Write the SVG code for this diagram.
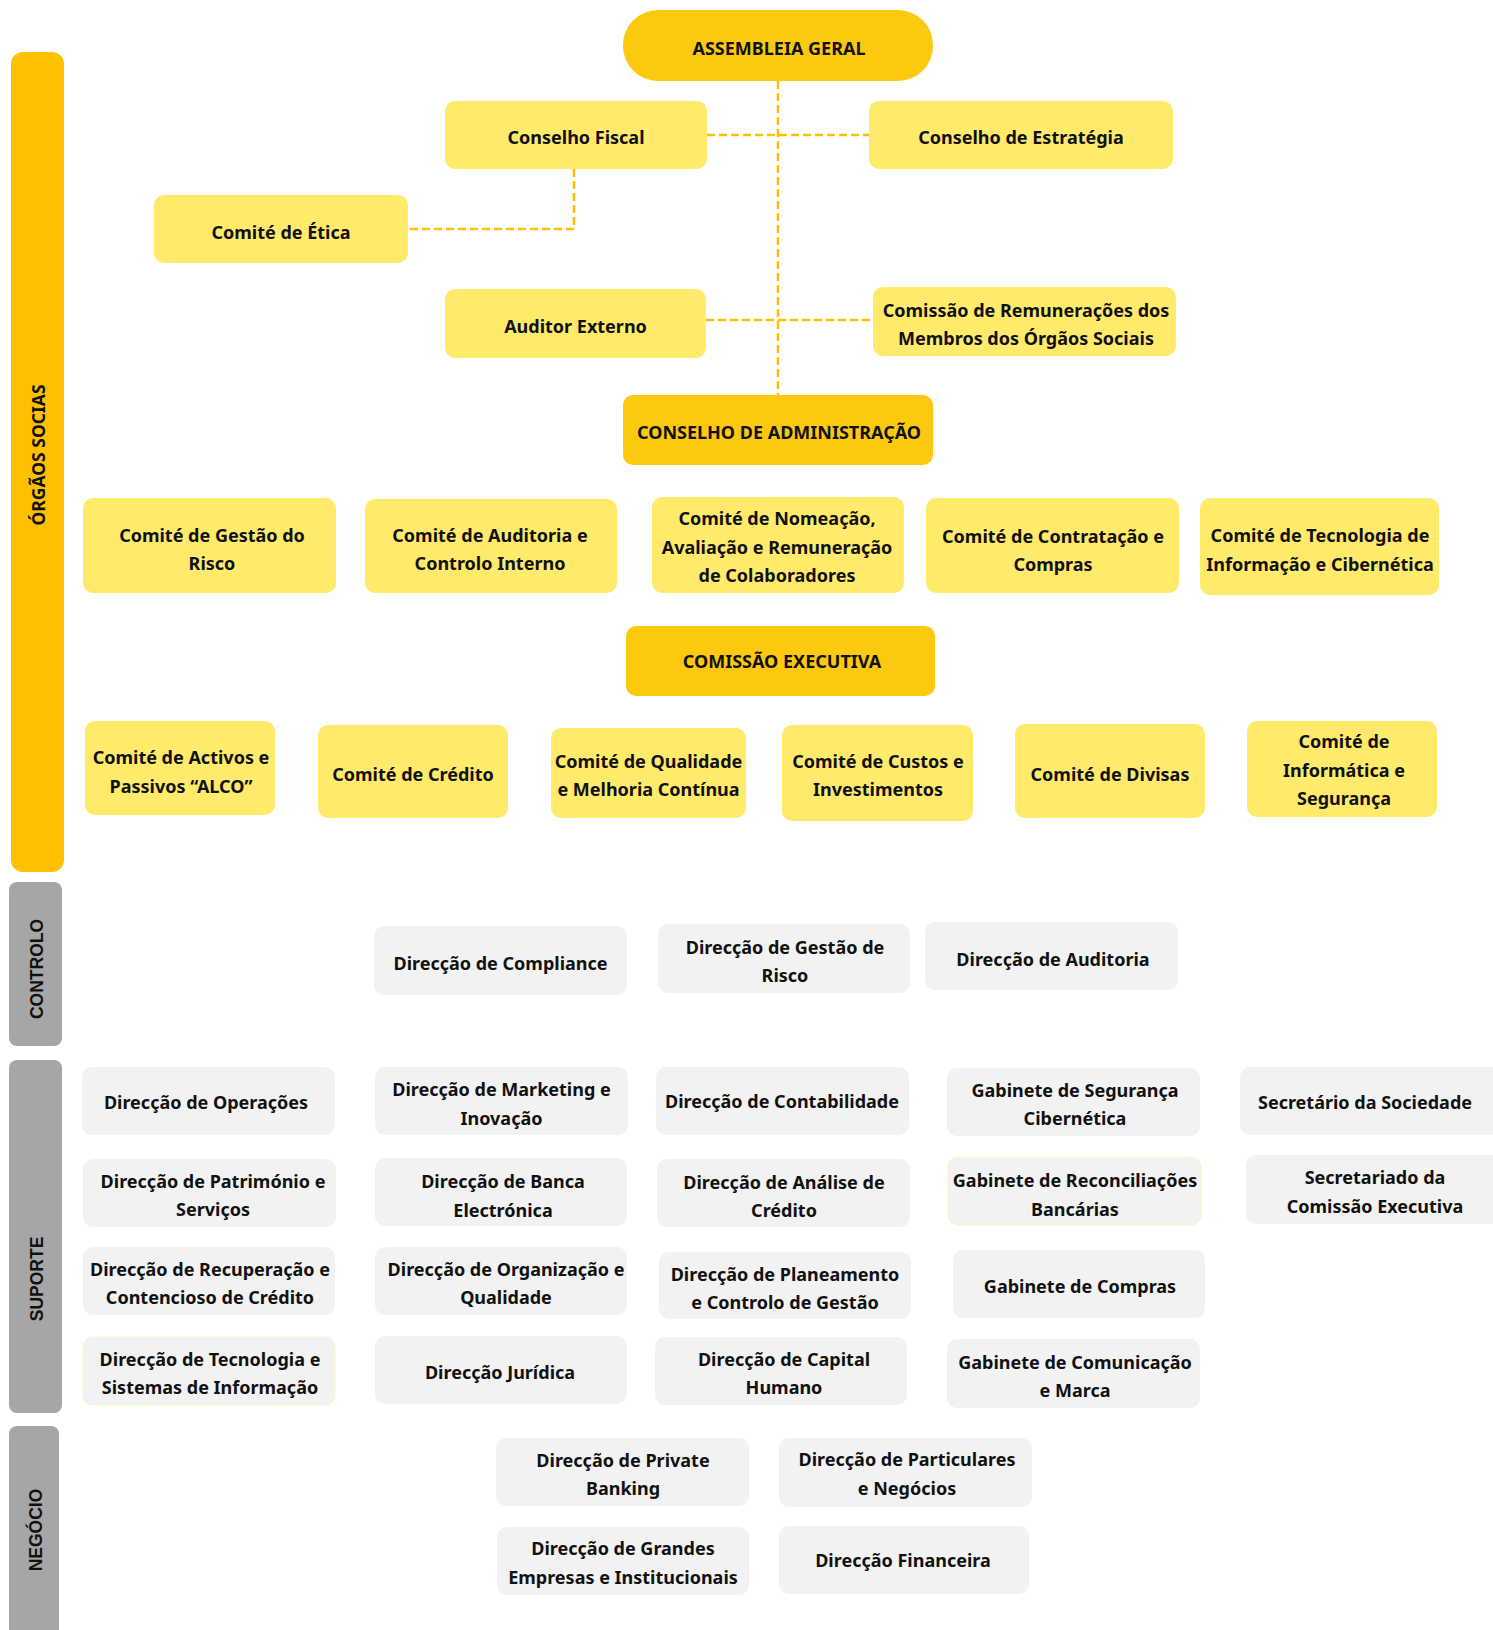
<svg xmlns="http://www.w3.org/2000/svg" width="1493" height="1630" viewBox="0 0 1493 1630">
<style>
.lt{fill:#FFEA6B}
.dk{fill:#FDC90F}
.gr{fill:#F2F2F2}
.t{font-family:"Noto Sans","Liberation Sans",sans-serif;font-weight:700;font-size:18px;fill:#111;text-anchor:middle}
.side{font-family:"Liberation Sans","Noto Sans",sans-serif;font-weight:700;font-size:17.5px;fill:#111;text-anchor:middle}
.con{fill:none;stroke:#FFC000;stroke-width:2.5;stroke-dasharray:8 4}
</style>
<rect width="1493" height="1630" fill="#fff"/>
<g id="bands">
<rect x="11" y="52" width="53" height="820" rx="12" fill="#FFC000"/>
<text class="side" style="font-family:'Noto Sans',sans-serif" transform="translate(45,455) rotate(-90)">ÓRGÃOS SOCIAS</text>
<rect x="9" y="882" width="53" height="164" rx="8" fill="#A6A6A6"/>
<text class="side" transform="translate(43,969) rotate(-90)">CONTROLO</text>
<rect x="9" y="1060" width="53" height="353" rx="8" fill="#A6A6A6"/>
<text class="side" transform="translate(43,1279) rotate(-90)">SUPORTE</text>
<rect x="9" y="1426" width="50" height="220" rx="8" fill="#A6A6A6"/>
<text class="side" transform="translate(42,1530) rotate(-90)">NEGÓCIO</text>
</g>
<g id="connectors">
<path class="con" d="M778 81 V395"/>
<path class="con" d="M707 135 H869"/>
<path class="con" d="M574 169 V229 H408"/>
<path class="con" d="M706 320 H873"/>
</g>
<g id="assembleia"><rect class="dk" x="623" y="10" width="310" height="71" rx="35"/><text class="t" x="779" y="55">ASSEMBLEIA GERAL</text></g>
<g id="conselho-fiscal"><rect class="lt" x="445" y="101" width="262" height="68" rx="10"/><text class="t" x="576" y="144">Conselho Fiscal</text></g>
<g id="conselho-estrategia"><rect class="lt" x="869" y="101" width="304" height="68" rx="10"/><text class="t" x="1021" y="144">Conselho de Estratégia</text></g>
<g id="comite-etica"><rect class="lt" x="154" y="195" width="254" height="68" rx="10"/><text class="t" x="281" y="238.5">Comité de Ética</text></g>
<g id="auditor-externo"><rect class="lt" x="445" y="289" width="261" height="69" rx="10"/><text class="t" x="575.5" y="332.5">Auditor Externo</text></g>
<g id="comissao-remuneracoes"><rect class="lt" x="873" y="287" width="303" height="69" rx="10"/><text class="t" x="1026" y="316.5">Comissão de Remunerações dos</text><text class="t" x="1026" y="345">Membros dos Órgãos Sociais</text></g>
<g id="conselho-administracao"><rect class="dk" x="623" y="395" width="310" height="70" rx="10"/><text class="t" x="779" y="439">CONSELHO DE ADMINISTRAÇÃO</text></g>
<g id="comite-gestao-risco"><rect class="lt" x="83" y="498" width="253" height="95" rx="10"/><text class="t" x="212" y="541.5">Comité de Gestão do</text><text class="t" x="212" y="570">Risco</text></g>
<g id="comite-auditoria"><rect class="lt" x="365" y="499" width="252" height="94" rx="10"/><text class="t" x="490" y="541.5">Comité de Auditoria e</text><text class="t" x="490" y="570">Controlo Interno</text></g>
<g id="comite-nomeacao"><rect class="lt" x="652" y="497" width="252" height="96" rx="10"/><text class="t" x="777" y="525">Comité de Nomeação,</text><text class="t" x="777" y="553.5">Avaliação e Remuneração</text><text class="t" x="777" y="582">de Colaboradores</text></g>
<g id="comite-contratacao"><rect class="lt" x="926" y="498" width="253" height="95" rx="10"/><text class="t" x="1053" y="542.5">Comité de Contratação e</text><text class="t" x="1053" y="571">Compras</text></g>
<g id="comite-tecnologia"><rect class="lt" x="1200" y="498" width="239" height="97" rx="10"/><text class="t" x="1320" y="542">Comité de Tecnologia de</text><text class="t" x="1320" y="570.5">Informação e Cibernética</text></g>
<g id="comissao-executiva"><rect class="dk" x="626" y="626" width="309" height="70" rx="10"/><text class="t" x="782" y="667.5">COMISSÃO EXECUTIVA</text></g>
<g id="comite-activos"><rect class="lt" x="85" y="721" width="190" height="94" rx="10"/><text class="t" x="181" y="764">Comité de Activos e</text><text class="t" x="181" y="792.5">Passivos “ALCO”</text></g>
<g id="comite-credito"><rect class="lt" x="318" y="725" width="190" height="93" rx="10"/><text class="t" x="413" y="781">Comité de Crédito</text></g>
<g id="comite-qualidade"><rect class="lt" x="551" y="728" width="195" height="90" rx="10"/><text class="t" x="648.5" y="767.5">Comité de Qualidade</text><text class="t" x="648.5" y="796">e Melhoria Contínua</text></g>
<g id="comite-custos"><rect class="lt" x="782" y="725" width="191" height="96" rx="10"/><text class="t" x="878" y="767.5">Comité de Custos e</text><text class="t" x="878" y="796">Investimentos</text></g>
<g id="comite-divisas"><rect class="lt" x="1015" y="724" width="190" height="94" rx="10"/><text class="t" x="1110" y="781">Comité de Divisas</text></g>
<g id="comite-informatica"><rect class="lt" x="1247" y="721" width="190" height="96" rx="10"/><text class="t" x="1344" y="748">Comité de</text><text class="t" x="1344" y="776.5">Informática e</text><text class="t" x="1344" y="805">Segurança</text></g>
<g id="dir-compliance"><rect class="gr" x="374" y="926" width="253" height="69" rx="10"/><text class="t" x="500.5" y="970">Direcção de Compliance</text></g>
<g id="dir-gestao-risco"><rect class="gr" x="658" y="924" width="252" height="69" rx="10"/><text class="t" x="785" y="953.5">Direcção de Gestão de</text><text class="t" x="785" y="982">Risco</text></g>
<g id="dir-auditoria"><rect class="gr" x="925" y="922" width="253" height="68" rx="10"/><text class="t" x="1053" y="965.5">Direcção de Auditoria</text></g>
<g id="dir-operacoes"><rect class="gr" x="82" y="1067" width="253" height="68" rx="10"/><text class="t" x="206" y="1109">Direcção de Operações</text></g>
<g id="dir-marketing"><rect class="gr" x="375" y="1067" width="253" height="68" rx="10"/><text class="t" x="501.5" y="1096">Direcção de Marketing e</text><text class="t" x="501.5" y="1124.5">Inovação</text></g>
<g id="dir-contabilidade"><rect class="gr" x="656" y="1067" width="253" height="68" rx="10"/><text class="t" x="782" y="1108">Direcção de Contabilidade</text></g>
<g id="gab-seguranca"><rect class="gr" x="947" y="1068" width="253" height="68" rx="10"/><text class="t" x="1075" y="1096.5">Gabinete de Segurança</text><text class="t" x="1075" y="1125">Cibernética</text></g>
<g id="secretario"><rect class="gr" x="1240" y="1067" width="262" height="68" rx="10"/><text class="t" x="1365" y="1109">Secretário da Sociedade</text></g>
<g id="dir-patrimonio"><rect class="gr" x="83" y="1159" width="253" height="68" rx="10"/><text class="t" x="213" y="1187.5">Direcção de Património e</text><text class="t" x="213" y="1216">Serviços</text></g>
<g id="dir-banca"><rect class="gr" x="375" y="1158" width="252" height="68" rx="10"/><text class="t" x="503" y="1188">Direcção de Banca</text><text class="t" x="503" y="1216.5">Electrónica</text></g>
<g id="dir-analise"><rect class="gr" x="657" y="1159" width="253" height="68" rx="10"/><text class="t" x="784" y="1188.5">Direcção de Análise de</text><text class="t" x="784" y="1217">Crédito</text></g>
<g id="gab-reconciliacoes"><rect class="gr" x="948" y="1157" width="253" height="68" rx="10" stroke="#FBF3C8" stroke-width="1"/><text class="t" x="1075" y="1187">Gabinete de Reconciliações</text><text class="t" x="1075" y="1215.5">Bancárias</text></g>
<g id="secretariado"><rect class="gr" x="1246" y="1155" width="260" height="69" rx="10"/><text class="t" x="1375" y="1184">Secretariado da</text><text class="t" x="1375" y="1212.5">Comissão Executiva</text></g>
<g id="dir-recuperacao"><rect class="gr" x="83" y="1247" width="252" height="68" rx="10"/><text class="t" x="210" y="1275.5">Direcção de Recuperação e</text><text class="t" x="210" y="1304">Contencioso de Crédito</text></g>
<g id="dir-organizacao"><rect class="gr" x="375" y="1247" width="252" height="68" rx="10"/><text class="t" x="506" y="1275.5">Direcção de Organização e</text><text class="t" x="506" y="1304">Qualidade</text></g>
<g id="dir-planeamento"><rect class="gr" x="659" y="1252" width="252" height="67" rx="10"/><text class="t" x="785" y="1280.5">Direcção de Planeamento</text><text class="t" x="785" y="1309">e Controlo de Gestão</text></g>
<g id="gab-compras"><rect class="gr" x="953" y="1250" width="252" height="68" rx="10"/><text class="t" x="1080" y="1293">Gabinete de Compras</text></g>
<g id="dir-tecnologia"><rect class="gr" x="83" y="1337" width="252" height="68" rx="10" stroke="#FBF3C8" stroke-width="1"/><text class="t" x="210" y="1365.5">Direcção de Tecnologia e</text><text class="t" x="210" y="1394">Sistemas de Informação</text></g>
<g id="dir-juridica"><rect class="gr" x="375" y="1336" width="252" height="68" rx="10"/><text class="t" x="500" y="1379">Direcção Jurídica</text></g>
<g id="dir-capital"><rect class="gr" x="655" y="1337" width="252" height="68" rx="10"/><text class="t" x="784" y="1365.5">Direcção de Capital</text><text class="t" x="784" y="1394">Humano</text></g>
<g id="gab-comunicacao"><rect class="gr" x="947" y="1339" width="253" height="69" rx="10"/><text class="t" x="1075" y="1368.5">Gabinete de Comunicação</text><text class="t" x="1075" y="1397">e Marca</text></g>
<g id="dir-private"><rect class="gr" x="496" y="1438" width="253" height="68" rx="10"/><text class="t" x="623" y="1466.5">Direcção de Private</text><text class="t" x="623" y="1495">Banking</text></g>
<g id="dir-particulares"><rect class="gr" x="779" y="1438" width="253" height="69" rx="10"/><text class="t" x="907" y="1466">Direcção de Particulares</text><text class="t" x="907" y="1494.5">e Negócios</text></g>
<g id="dir-grandes"><rect class="gr" x="497" y="1527" width="252" height="68" rx="10"/><text class="t" x="623" y="1555">Direcção de Grandes</text><text class="t" x="623" y="1583.5">Empresas e Institucionais</text></g>
<g id="dir-financeira"><rect class="gr" x="779" y="1526" width="250" height="68" rx="10"/><text class="t" x="903" y="1567">Direcção Financeira</text></g>
</svg>
